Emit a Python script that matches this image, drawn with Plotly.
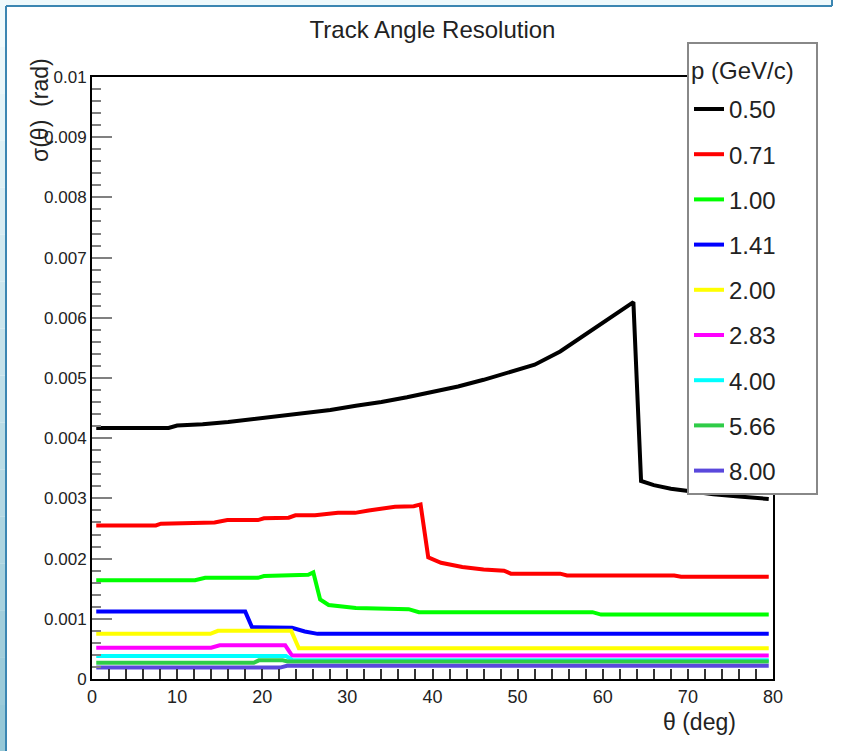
import plotly.graph_objects as go

# Track angle resolution sigma(theta) vs polar angle, one curve per momentum
momenta = ["0.50", "0.71", "1.00", "1.41", "2.00", "2.83", "4.00", "5.66", "8.00"]
colors = ["#000000", "#ff0000", "#00ff00", "#0000ff", "#ffff00",
          "#ff00ff", "#00ffff", "#2fcc48", "#5a48dc"]

theta_050 = [0.5, 9, 10, 13, 16, 19, 22, 25, 28, 31, 34, 37, 40, 43, 46, 49, 52,
             55, 58, 61, 63.6, 64.5, 66, 68, 70, 73, 76, 79.5]
sigma_050 = [0.00417, 0.00417, 0.00421, 0.00423, 0.00427, 0.00432, 0.00437, 0.00442,
             0.00447, 0.00454, 0.00460, 0.00468, 0.00477, 0.00486, 0.00497, 0.00509,
             0.00522, 0.00544, 0.00572, 0.00600, 0.00626, 0.00329, 0.00322, 0.00316,
             0.00312, 0.00307, 0.00303, 0.00299]

theta_071 = [0.5, 7.5, 8.1, 14.4, 15.9, 19.5, 20.2, 23.1, 23.9, 26.2, 28.9, 30.9, 32.5,
             34.8, 35.6, 37.8, 38.6, 39.5, 41, 43.5, 46, 48.4, 49.2, 55, 55.8, 68.4,
             69.2, 79.5]
sigma_071 = [0.00255, 0.00255, 0.00258, 0.00260, 0.00264, 0.00264, 0.00267, 0.00268,
             0.00272, 0.00272, 0.00276, 0.00276, 0.00280, 0.00284, 0.00286, 0.00287,
             0.00290, 0.00202, 0.00193, 0.00186, 0.00182, 0.00180, 0.00175, 0.00175,
             0.00172, 0.00172, 0.00170, 0.00170]

theta_100 = [0.5, 12.1, 13.3, 19.5, 20.2, 25.4, 26.0, 26.8, 27.8, 31, 37.2, 38.4, 58.8,
             59.8, 79.5]
sigma_100 = [0.00164, 0.00164, 0.00168, 0.00168, 0.00171, 0.00173, 0.00177, 0.00132,
             0.00123, 0.00118, 0.00116, 0.00111, 0.00111, 0.00107, 0.00107]

theta_141 = [0.5, 18.0, 18.8, 23.5, 25.0, 26.5, 79.5]
sigma_141 = [0.00112, 0.00112, 0.00086, 0.00085, 0.00079, 0.00075, 0.00075]

theta_200 = [0.5, 13.9, 14.8, 23.4, 24.3, 79.5]
sigma_200 = [0.00075, 0.00075, 0.00080, 0.00080, 0.00051, 0.00051]

theta_283 = [0.5, 14.0, 15.0, 22.7, 23.5, 79.5]
sigma_283 = [0.00052, 0.00052, 0.00056, 0.00056, 0.00039, 0.00039]

theta_400 = [0.5, 22.8, 23.6, 79.5]
sigma_400 = [0.00038, 0.00038, 0.00031, 0.00031]

theta_566 = [0.5, 19.0, 19.6, 22.4, 23.0, 79.5]
sigma_566 = [0.00027, 0.00027, 0.00031, 0.00031, 0.00029, 0.00029]

theta_800 = [0.5, 22.1, 22.9, 79.5]
sigma_800 = [0.00019, 0.00019, 0.00022, 0.00022]

thetas = [theta_050, theta_071, theta_100, theta_141, theta_200,
          theta_283, theta_400, theta_566, theta_800]
sigmas = [sigma_050, sigma_071, sigma_100, sigma_141, sigma_200,
          sigma_283, sigma_400, sigma_566, sigma_800]

y_tickvals = [0, 0.001, 0.002, 0.003, 0.004, 0.005, 0.006, 0.007, 0.008, 0.009, 0.01]
y_ticktext = ["0", "0.001", "0.002", "0.003", "0.004", "0.005", "0.006",
              "0.007", "0.008", "0.009", "0.01"]
x_tickvals = [0, 10, 20, 30, 40, 50, 60, 70, 80]
x_ticktext = ["0", "10", "20", "30", "40", "50", "60", "70", "80"]
legend_header = "p (GeV/c)"

FONT = "Liberation Sans, Arial, Helvetica, sans-serif"
W, H = 848, 751
L, R, T, B = 92, 75, 77, 72
PW, PH = W - L - R, H - T - B


def px_x(px):
    return (px - L) / PW


def px_y(py):
    return (H - B - py) / PH


fig = go.Figure()
for i, (p, c, th, sg) in enumerate(zip(momenta, colors, thetas, sigmas)):
    fig.add_trace(go.Scatter(
        x=th, y=sg, mode="lines", name=p, legendgroup=f"g{i}",
        line=dict(color=c, width=4),
    ))

# Frame decoration: light strip on the top and left with a steel-blue border
shapes = []
nb = 16
for k in range(nb):
    f = k / (nb - 1)
    r = int(240 + (150 - 240) * f)
    g = int(250 + (200 - 250) * f)
    b = int(252 + (215 - 252) * f)
    shapes.append(dict(type="rect", xref="paper", yref="paper",
                       x0=px_x(0), x1=px_x(6), y0=px_y(H * k / nb), y1=px_y(H * (k + 1) / nb),
                       fillcolor=f"rgb({r},{g},{b})", line=dict(width=0), layer="below"))
shapes.append(dict(type="rect", xref="paper", yref="paper",
                   x0=px_x(6), x1=px_x(832), y0=px_y(0), y1=px_y(6),
                   fillcolor="#eef9fc", line=dict(width=0), layer="below"))
shapes.append(dict(type="line", xref="paper", yref="paper",
                   x0=px_x(6), x1=px_x(6), y0=px_y(6), y1=px_y(H),
                   line=dict(color="#3b86b2", width=2)))
shapes.append(dict(type="line", xref="paper", yref="paper",
                   x0=px_x(6), x1=px_x(832), y0=px_y(6), y1=px_y(6),
                   line=dict(color="#3b86b2", width=2)))
shapes.append(dict(type="line", xref="paper", yref="paper",
                   x0=px_x(832), x1=px_x(832), y0=px_y(0), y1=px_y(6),
                   line=dict(color="#3b86b2", width=2)))

# header row: 24px text in a taller (33px) title row; trailing no-break spaces widen the box
legend_title = (f'<span style="font-size:24px;baseline-shift:8px">'
                f'{legend_header}\u00a0\u00a0\u00a0</span>')

fig.update_layout(
    width=W, height=H,
    margin=dict(l=L, r=R, t=T, b=B, autoexpand=False),
    paper_bgcolor="white", plot_bgcolor="white",
    font=dict(family=FONT, color="#222222"),
    showlegend=True,
    title=dict(text="Track Angle Resolution", x=0.5, xref="paper", xanchor="center",
               y=1 - 30 / H, yref="container", yanchor="middle",
               font=dict(size=24, color="#222222", family=FONT)),
    xaxis=dict(range=[0, 80], tickvals=x_tickvals, ticktext=x_ticktext,
               ticks="inside", ticklen=10, tickwidth=2, tickcolor="#333333",
               minor=dict(dtick=2, tick0=0, ticks="inside", ticklen=10, tickwidth=2,
                          tickcolor="#333333"),
               showline=True, linecolor="#000000", linewidth=2, mirror=True,
               showgrid=False, zeroline=False,
               tickfont=dict(size=18, color="#222222")),
    yaxis=dict(range=[0, 0.01], tickvals=y_tickvals, ticktext=y_ticktext,
               ticks="inside", ticklen=20, tickwidth=2, tickcolor="#808080",
               minor=dict(dtick=0.0002, tick0=0, ticks="inside", ticklen=9, tickwidth=2,
                          tickcolor="#808080"),
               showline=True, linecolor="#000000", linewidth=2, mirror=True,
               showgrid=False, zeroline=False,
               tickfont=dict(size=17, color="#222222")),
    legend=dict(x=px_x(687), y=px_y(42), xanchor="left", yanchor="top",
                bgcolor="white", bordercolor="#888888", borderwidth=2,
                font=dict(size=24, color="#222222", family=FONT),
                title=dict(text=legend_title,
                           font=dict(size=33, color="#222222", family=FONT)),
                tracegroupgap=11, itemwidth=30, maxheight=520),
    shapes=shapes,
    annotations=[
        dict(text="θ (deg)", xref="paper", yref="paper", x=px_x(738), y=px_y(722),
             xanchor="right", yanchor="middle", showarrow=False,
             font=dict(size=23, color="#222222", family=FONT)),
        dict(text="σ(θ)  (rad)", xref="paper", yref="paper", x=px_x(40), y=px_y(110),
             xanchor="center", yanchor="middle", textangle=-90, showarrow=False,
             font=dict(size=23, color="#222222", family=FONT)),
    ],
)

fig.write_html("out.html")
